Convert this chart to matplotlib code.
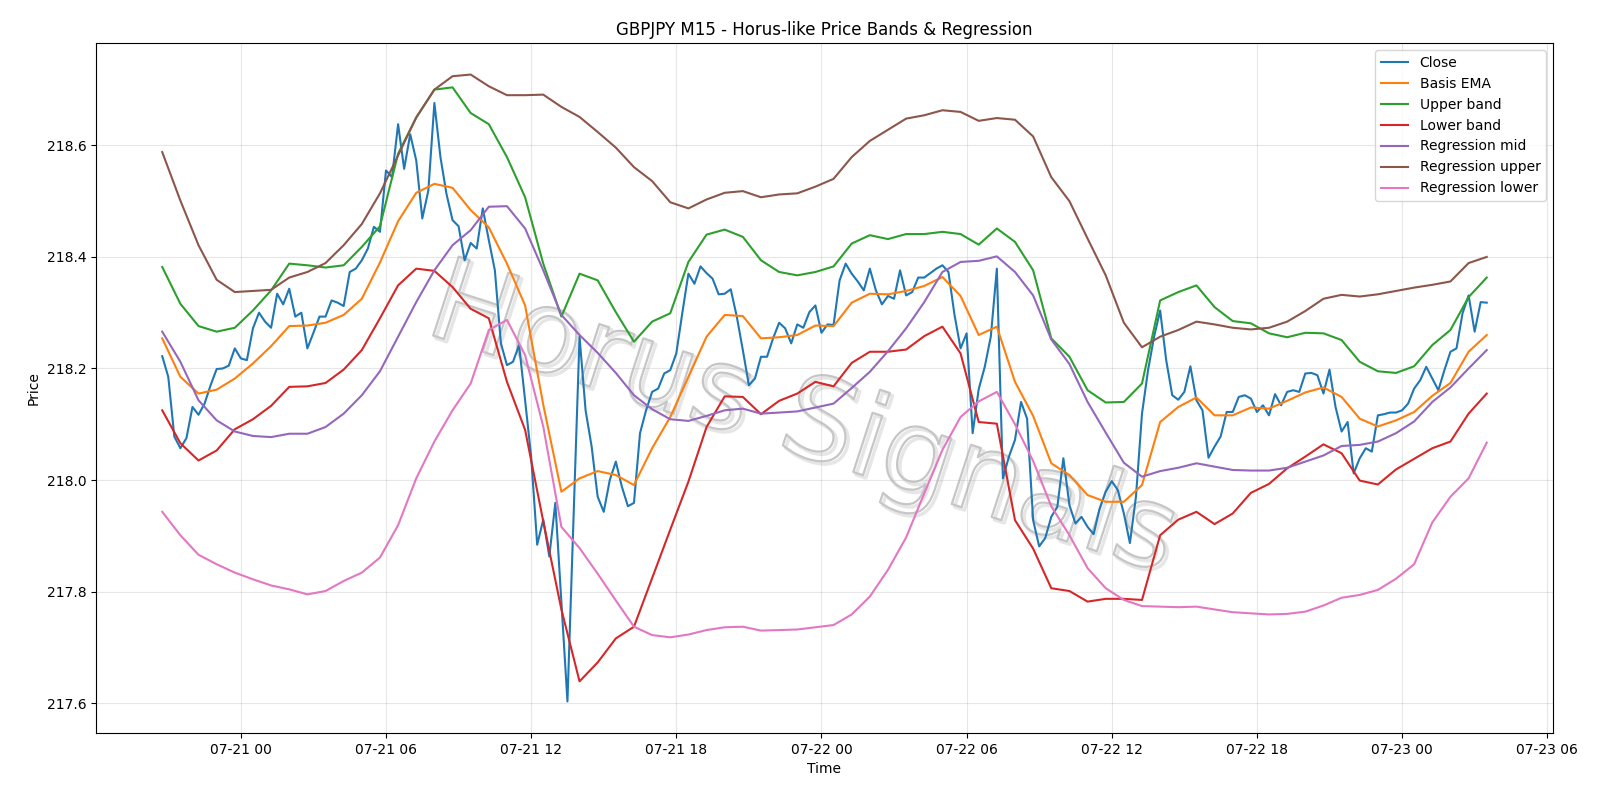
import matplotlib
matplotlib.use("Agg")
import matplotlib.pyplot as plt
import matplotlib.dates as mdates
import matplotlib.patheffects as pe
import pandas as pd

# GBPJPY M15 closes, first bar 2025-07-20 20:45
close = [
    218.222, 218.185, 218.078, 218.057, 218.075, 218.131, 218.117, 218.137, 218.170, 218.199,
    218.200, 218.205, 218.236, 218.218, 218.215, 218.272, 218.300, 218.284, 218.273, 218.334,
    218.315, 218.343, 218.293, 218.300, 218.236, 218.264, 218.293, 218.293, 218.322, 218.318,
    218.312, 218.373, 218.379, 218.394, 218.415, 218.454, 218.445, 218.555, 218.543, 218.638,
    218.558, 218.620, 218.573, 218.469, 218.519, 218.676, 218.579, 218.513, 218.466, 218.455,
    218.394, 218.425, 218.415, 218.487, 218.430, 218.376, 218.245, 218.206, 218.212, 218.242,
    218.143, 218.042, 217.884, 217.929, 217.863, 217.959, 217.780, 217.603, 217.930, 218.257,
    218.125, 218.060, 217.970, 217.943, 218.000, 218.033, 217.988, 217.953, 217.959, 218.084,
    218.125, 218.158, 218.164, 218.191, 218.197, 218.227, 218.300, 218.370, 218.352, 218.383,
    218.371, 218.361, 218.333, 218.334, 218.342, 218.293, 218.233, 218.170, 218.182, 218.221,
    218.221, 218.254, 218.282, 218.272, 218.245, 218.279, 218.273, 218.301, 218.313, 218.264,
    218.279, 218.278, 218.358, 218.388, 218.370, 218.356, 218.340, 218.379, 218.340, 218.315,
    218.330, 218.325, 218.376, 218.331, 218.337, 218.363, 218.363, 218.371, 218.379, 218.385,
    218.373, 218.296, 218.236, 218.263, 218.084, 218.163, 218.203, 218.257, 218.379, 218.003,
    218.042, 218.072, 218.140, 218.110, 217.928, 217.881, 217.896, 217.934, 217.952, 218.039,
    217.955, 217.922, 217.934, 217.916, 217.903, 217.949, 217.979, 217.998, 217.982, 217.940,
    217.887, 217.970, 218.119, 218.197, 218.257, 218.304, 218.215, 218.152, 218.144, 218.158,
    218.204, 218.143, 218.125, 218.040, 218.060, 218.078, 218.122, 218.122, 218.149, 218.152,
    218.146, 218.122, 218.134, 218.116, 218.154, 218.134, 218.158, 218.161, 218.158, 218.191,
    218.192, 218.188, 218.155, 218.198, 218.131, 218.087, 218.104, 218.012, 218.039, 218.057,
    218.051, 218.116, 218.118, 218.121, 218.121, 218.125, 218.137, 218.164, 218.179, 218.203,
    218.182, 218.161, 218.197, 218.230, 218.236, 218.299, 218.331, 218.266, 218.319, 218.318,
]

# indicator values read every third bar (every 45 min)
basis_ema = [
    218.254, 218.185, 218.155, 218.162, 218.182, 218.209, 218.240, 218.276, 218.277, 218.282,
    218.296, 218.325, 218.390, 218.464, 218.515, 218.531, 218.524, 218.484, 218.453, 218.388,
    218.313, 218.135, 217.979, 218.003, 218.016, 218.009, 217.991, 218.057, 218.113, 218.185,
    218.257, 218.296, 218.294, 218.254, 218.256, 218.260, 218.277, 218.276, 218.318, 218.334,
    218.333, 218.339, 218.348, 218.364, 218.330, 218.260, 218.275, 218.176, 218.115, 218.030,
    218.009, 217.973, 217.961, 217.961, 217.991, 218.104, 218.131, 218.148, 218.116, 218.116,
    218.130, 218.128, 218.142, 218.157, 218.166, 218.149, 218.110, 218.096, 218.107, 218.122,
    218.151, 218.174, 218.230, 218.260,
]
upper_band = [
    218.382, 218.316, 218.276, 218.266, 218.273, 218.304, 218.340, 218.388, 218.385, 218.381,
    218.385, 218.418, 218.455, 218.585, 218.650, 218.700, 218.704, 218.658, 218.638, 218.579,
    218.507, 218.388, 218.293, 218.370, 218.358, 218.301, 218.248, 218.284, 218.299, 218.391,
    218.440, 218.449, 218.436, 218.394, 218.373, 218.367, 218.373, 218.383, 218.424, 218.439,
    218.432, 218.441, 218.441, 218.445, 218.441, 218.422, 218.451, 218.427, 218.376, 218.254,
    218.221, 218.161, 218.139, 218.140, 218.173, 218.322, 218.337, 218.349, 218.310, 218.285,
    218.281, 218.263, 218.256, 218.264, 218.263, 218.251, 218.212, 218.195, 218.192, 218.204,
    218.242, 218.269, 218.328, 218.363,
]
lower_band = [
    218.125, 218.066, 218.035, 218.053, 218.091, 218.109, 218.133, 218.167, 218.168, 218.174,
    218.198, 218.233, 218.290, 218.349, 218.379, 218.375, 218.346, 218.307, 218.290, 218.176,
    218.090, 217.926, 217.768, 217.639, 217.673, 217.716, 217.737, 217.824, 217.911, 217.997,
    218.095, 218.150, 218.149, 218.118, 218.142, 218.155, 218.176, 218.168, 218.210, 218.230,
    218.230, 218.234, 218.258, 218.275, 218.227, 218.104, 218.101, 217.928, 217.877, 217.806,
    217.801, 217.782, 217.787, 217.787, 217.785, 217.901, 217.929, 217.943, 217.921, 217.940,
    217.977, 217.993, 218.021, 218.042, 218.064, 218.048, 217.999, 217.992, 218.019, 218.038,
    218.057, 218.069, 218.119, 218.155,
]
reg_mid = [
    218.266, 218.212, 218.143, 218.107, 218.087, 218.079, 218.077, 218.083, 218.083, 218.095,
    218.119, 218.152, 218.195, 218.257, 218.319, 218.376, 218.421, 218.448, 218.490, 218.491,
    218.451, 218.376, 218.296, 218.260, 218.228, 218.192, 218.152, 218.127, 218.109, 218.106,
    218.115, 218.125, 218.128, 218.119, 218.121, 218.123, 218.130, 218.137, 218.165, 218.194,
    218.231, 218.272, 218.319, 218.373, 218.391, 218.393, 218.401, 218.373, 218.331, 218.252,
    218.208, 218.140, 218.085, 218.031, 218.006, 218.016, 218.022, 218.030, 218.024, 218.018,
    218.017, 218.017, 218.022, 218.033, 218.044, 218.061, 218.063, 218.069, 218.084, 218.105,
    218.140, 218.166, 218.200, 218.233,
]
reg_upper = [
    218.588, 218.501, 218.421, 218.359, 218.337, 218.339, 218.341, 218.363, 218.373, 218.389,
    218.421, 218.459, 218.514, 218.582, 218.650, 218.700, 218.724, 218.727, 218.706, 218.690,
    218.690, 218.691, 218.669, 218.651, 218.624, 218.596, 218.561, 218.536, 218.498, 218.487,
    218.503, 218.515, 218.518, 218.507, 218.512, 218.514, 218.526, 218.540, 218.579, 218.608,
    218.628, 218.648, 218.654, 218.663, 218.660, 218.644, 218.649, 218.646, 218.616, 218.543,
    218.500, 218.433, 218.367, 218.282, 218.238, 218.257, 218.269, 218.284, 218.279, 218.273,
    218.270, 218.273, 218.284, 218.303, 218.325, 218.332, 218.329, 218.333, 218.339, 218.345,
    218.350, 218.356, 218.389, 218.400,
]
reg_lower = [
    217.943, 217.901, 217.866, 217.849, 217.834, 217.822, 217.811, 217.804, 217.795, 217.801,
    217.819, 217.834, 217.861, 217.919, 218.003, 218.069, 218.125, 218.173, 218.269, 218.287,
    218.224, 218.096, 217.916, 217.878, 217.832, 217.784, 217.737, 217.722, 217.718, 217.723,
    217.731, 217.736, 217.737, 217.730, 217.731, 217.732, 217.736, 217.740, 217.759, 217.791,
    217.839, 217.897, 217.976, 218.054, 218.113, 218.141, 218.158, 218.100, 218.034, 217.953,
    217.901, 217.842, 217.806, 217.785, 217.774, 217.773, 217.772, 217.773, 217.768, 217.763,
    217.761, 217.759, 217.760, 217.764, 217.775, 217.789, 217.794, 217.803, 217.823, 217.849,
    217.924, 217.970, 218.003, 218.067,
]

times = pd.date_range("2025-07-20 20:45", periods=len(close), freq="15min")
ind_times = times[::3]

fig, ax = plt.subplots(figsize=(16, 8), dpi=100)
fig.subplots_adjust(left=0.060, right=0.9706, top=0.946, bottom=0.084)
ax.plot(times, close, label="Close")
ax.plot(ind_times, basis_ema, label="Basis EMA")
ax.plot(ind_times, upper_band, label="Upper band")
ax.plot(ind_times, lower_band, label="Lower band")
ax.plot(ind_times, reg_mid, label="Regression mid")
ax.plot(ind_times, reg_upper, label="Regression upper")
ax.plot(ind_times, reg_lower, label="Regression lower")

# watermark, hollow grey letters with a soft offset shadow
ax.text(0.485, 0.45, "Horus Signals", transform=ax.transAxes, fontsize=82,
        rotation=-18, ha="center", va="center", color="none", zorder=0.5,
        path_effects=[pe.Stroke(linewidth=2.5, foreground="#e6e6e6", offset=(2, -2)),
                      pe.Stroke(linewidth=1.6, foreground="#c6c6c6")])

ax.xaxis.set_major_locator(mdates.HourLocator(byhour=[0, 6, 12, 18]))
ax.xaxis.set_major_formatter(mdates.DateFormatter("%m-%d %H"))
ax.set_title("GBPJPY M15 - Horus-like Price Bands & Regression")
ax.set_xlabel("Time")
ax.set_ylabel("Price")
ax.grid(True, alpha=0.3)
ax.legend(loc="upper right")

fig.savefig("out.png")
